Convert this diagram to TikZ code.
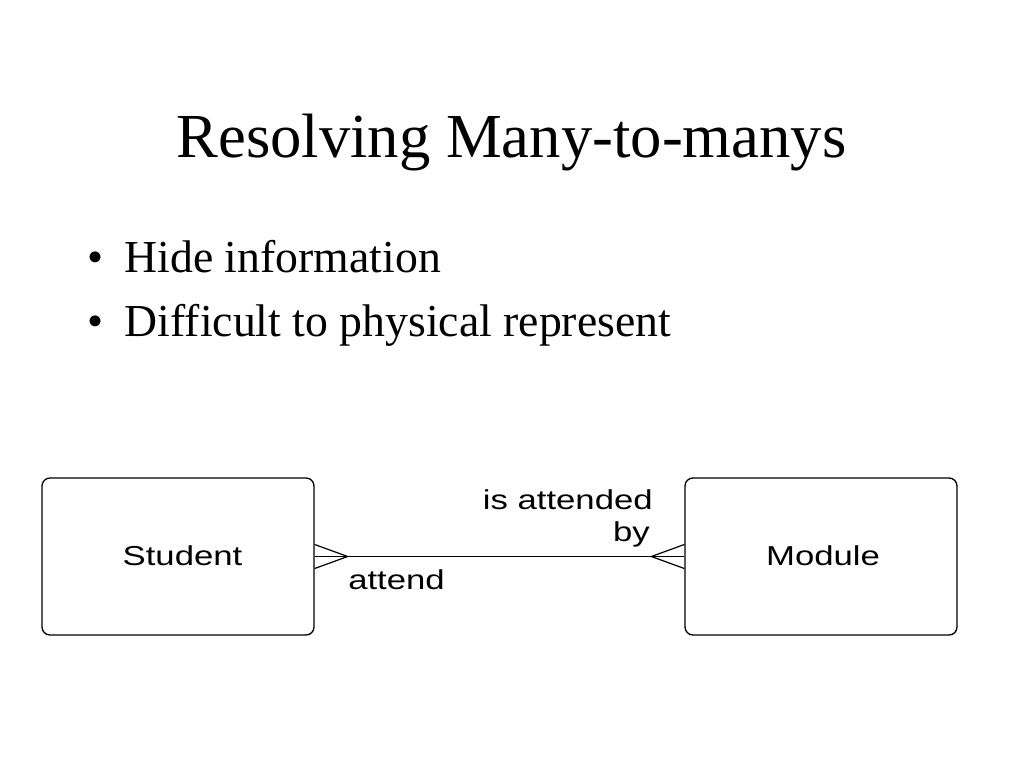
\documentclass[tikz,border=0pt]{standalone}
\usepackage{fontspec}
\setmainfont{Liberation Serif}
\newfontfamily\arialfont{Liberation Sans}
\newcommand{\widetext}[1]{\scalebox{1.27}[1]{#1}}
\begin{document}
\begin{tikzpicture}[x=0.75pt,y=-0.75pt,
  entity/.style={draw=black,line width=1pt,rounded corners=6pt,minimum width=204pt,minimum height=117.75pt,inner sep=0pt,font=\arialfont\fontsize{20}{24}\selectfont},
  rel/.style={draw=black,line width=0.9pt},
  lbl/.style={inner sep=0pt,font=\arialfont\fontsize{20.5}{24}\selectfont}]
\useasboundingbox (0,0) rectangle (1024,768);
\node[anchor=base,inner sep=0pt,font=\fontsize{47}{56}\selectfont] (title) at (511.5,157) {Resolving Many-to-manys};
\node[anchor=base west,inner sep=0pt,font=\fontsize{34.3}{41}\selectfont] (b1) at (87,272) {\textbullet\hspace{16pt}Hide information};
\node[anchor=base west,inner sep=0pt,font=\fontsize{34.3}{41}\selectfont] (b2) at (87,336) {\textbullet\hspace{16pt}Difficult to physical represent};
\node[entity] (student) at (178,556.5) {};
\node[entity] (module) at (821,556.5) {};
\node[lbl,anchor=base] (stxt) at (182.5,565) {\widetext{Student}};
\node[lbl,anchor=base] (mtxt) at (823,565) {\widetext{Module}};
\draw[rel] (student.east) -- (module.west);
\draw[rel] ([yshift=9pt]student.east) -- ++(33,12) -- ([yshift=-9pt]student.east);
\draw[rel] ([yshift=9pt]module.west) -- ++(-33,12) -- ([yshift=-9pt]module.west);
\node[lbl,anchor=base east] (l1) at (653,509) {\widetext{is attended}};
\node[lbl,anchor=base east] (l2) at (650,541) {\widetext{by}};
\node[lbl,anchor=base west] (l3) at (348,589) {\widetext{attend}};
\end{tikzpicture}
\end{document}
